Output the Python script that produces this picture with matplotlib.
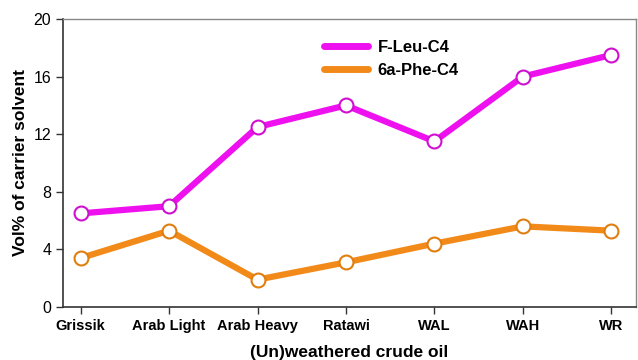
import matplotlib
matplotlib.use("Agg")
import matplotlib.pyplot as plt

plt.rcParams['font.family'] = ['Liberation Sans', 'DejaVu Sans']

categories = ["Grissik", "Arab Light", "Arab Heavy", "Ratawi", "WAL", "WAH", "WR"]
f_leu = [6.5, 7.0, 12.5, 14.0, 11.5, 16.0, 17.5]
phe = [3.4, 5.3, 1.9, 3.1, 4.4, 5.6, 5.3]
yticks = [0, 4, 8, 12, 16, 20]

fig = plt.figure(figsize=(6.38, 3.6), dpi=100)
ax = fig.add_axes([63/638, 1-307/360, (636-63)/638, (307-19)/360])

x = list(range(len(categories)))
ax.plot(x, f_leu, color='#EE10EE', lw=4.5, marker='o', ms=10, mfc='white',
        mec='#D010D0', mew=1.5, label='F-Leu-C4', solid_capstyle='round')
ax.plot(x, phe, color='#F28A1A', lw=4.5, marker='o', ms=10, mfc='white',
        mec='#E07E10', mew=1.5, label='6a-Phe-C4', solid_capstyle='round')

ax.set_xlim(-0.2, 6.28)
ax.set_ylim(0, 20)
ax.set_xticks(x)
ax.set_xticklabels(categories, fontweight='bold', fontsize=10.5)
ax.set_yticks(yticks)
ax.set_yticklabels([str(v) for v in yticks], fontsize=11.5)
ax.tick_params(direction='out', length=5, width=1, color='#333333')
for s in ['left', 'bottom']:
    ax.spines[s].set_color('#333333')
    ax.spines[s].set_linewidth(1.2)
for s in ['top', 'right']:
    ax.spines[s].set_color('#888888')
    ax.spines[s].set_linewidth(1.0)

ax.set_xlabel('(Un)weathered crude oil', fontweight='bold', fontsize=12.5, labelpad=9)
ax.set_ylabel('Vol% of carrier solvent', fontweight='bold', fontsize=12.5, labelpad=4)

leg = ax.legend(loc='upper left', bbox_to_anchor=(0.43, 0.98), frameon=False,
                prop={'weight': 'bold', 'size': 12}, handlelength=2.6,
                handletextpad=0.6, labelspacing=0.5)
for h in leg.get_lines():
    h.set_marker('')
    h.set_linewidth(5)

fig.savefig('out.png', dpi=100)
